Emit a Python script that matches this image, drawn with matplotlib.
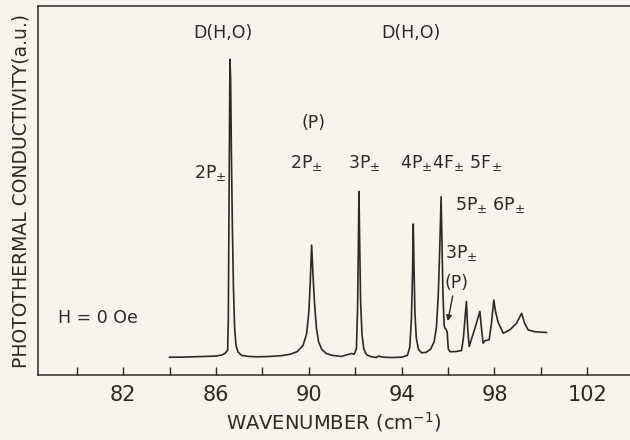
import numpy as np
import matplotlib
matplotlib.use("Agg")
import matplotlib.pyplot as plt

# spectrum (wavenumber in cm^-1, signal in a.u.)
wavenumber = [84.00, 84.50, 85.00, 85.50, 86.00, 86.25, 86.40, 86.47, 86.50, 86.53,
              86.56, 86.60, 86.63, 86.66, 86.70, 86.75, 86.80, 86.86, 86.95, 87.10,
              87.40, 87.80, 88.30, 88.80, 89.20, 89.50, 89.75, 89.90, 90.00, 90.06,
              90.12, 90.18, 90.25, 90.33, 90.42, 90.55, 90.75, 91.00, 91.40, 91.84,
              91.95, 92.05, 92.10, 92.13, 92.16, 92.19, 92.23, 92.29, 92.37, 92.48,
              92.65, 92.90, 93.00, 93.20, 93.60, 94.00, 94.25, 94.35, 94.42, 94.47,
              94.50, 94.53, 94.57, 94.63, 94.72, 94.85, 95.05, 95.25, 95.40, 95.50,
              95.58, 95.64, 95.70, 95.74, 95.78, 95.83, 95.86, 95.90, 95.96, 96.01,
              96.08, 96.30, 96.58, 96.66, 96.79, 96.85, 96.91, 97.00, 97.15, 97.37,
              97.45, 97.51, 97.60, 97.77, 97.87, 97.97, 98.05, 98.16, 98.38, 98.66,
              98.95, 99.17, 99.30, 99.45, 99.74, 100.24]
signal = [4.8, 4.8, 4.9, 5.0, 5.1, 5.4, 5.9, 6.5, 6.6, 15.0,
          45.0, 85.6, 80.0, 62.0, 42.0, 24.0, 13.0, 8.0, 6.2, 5.3,
          5.0, 4.9, 5.0, 5.2, 5.6, 6.3, 8.0, 11.0, 17.0, 25.0,
          35.2, 27.0, 19.0, 12.5, 9.0, 7.0, 5.8, 5.3, 5.0, 5.8,
          5.6, 7.0, 18.0, 33.0, 49.7, 36.0, 20.0, 11.0, 7.0, 5.5,
          5.0, 4.7, 5.1, 4.8, 4.7, 4.8, 5.3, 7.5, 15.0, 28.0,
          40.9, 30.0, 17.0, 10.0, 7.0, 6.0, 6.1, 7.0, 9.0, 13.0,
          22.0, 34.0, 48.3, 35.0, 22.0, 13.5, 12.7, 12.5, 11.7, 7.0,
          6.3, 6.3, 6.6, 10.0, 19.9, 12.0, 7.7, 9.5, 12.5, 17.2,
          12.0, 8.6, 9.3, 9.5, 14.0, 20.3, 17.0, 14.2, 11.3, 12.2,
          14.0, 16.7, 14.0, 12.2, 11.7, 11.5]

tick_pos = np.arange(80, 104, 2)
tick_labels = ["", "82", "", "86", "", "90", "", "94", "", "98", "", "102"]

# peak labels: (x, y, text, horizontal alignment)
labels = [
    (85.0, 91.3, "D(H,O)", "left"),
    (93.13, 91.3, "D(H,O)", "left"),
    (89.70, 66.9, "(P)", "left"),
    (86.47, 53.4, "2P$_{\\pm}$", "right"),
    (89.18, 56.1, "2P$_{\\pm}$", "left"),
    (91.68, 56.1, "3P$_{\\pm}$", "left"),
    (93.92, 56.1, "4P$_{\\pm}$4F$_{\\pm}$ 5F$_{\\pm}$", "left"),
    (96.29, 44.7, "5P$_{\\pm}$ 6P$_{\\pm}$", "left"),
    (95.86, 31.7, "3P$_{\\pm}$", "left"),
    (95.86, 23.6, "(P)", "left"),
    (79.18, 14.1, "H = 0 Oe", "left"),
]

ink = "#2a2a28"
paper = "#f7f5e9"

fig = plt.figure(figsize=(6.3, 4.4), dpi=100, facecolor=paper)
ax = fig.add_axes([0.060, 0.148, 0.940, 0.838], facecolor=paper)

ax.plot(wavenumber, signal, color=ink, linewidth=1.2)

for x, y, s, ha in labels:
    ax.text(x, y, s, ha=ha, va="baseline", fontsize=12.5, color=ink)

# arrow from the lower (P) label to the shoulder
ax.annotate("", xy=(95.99, 14.6), xytext=(96.20, 21.4),
            arrowprops=dict(arrowstyle="-|>", color=ink, lw=1.0,
                            mutation_scale=8, shrinkA=0, shrinkB=0))

ax.set_xlim(78.32, 103.84)
ax.set_ylim(0, 100)
ax.set_xticks(tick_pos)
ax.set_xticklabels(tick_labels, fontsize=15, color=ink)
ax.set_yticks([])
ax.tick_params(axis="x", direction="in", length=6, width=1.0, color=ink, pad=7)
ax.spines["right"].set_visible(False)
for side in ["left", "bottom", "top"]:
    ax.spines[side].set_color(ink)
    ax.spines[side].set_linewidth(1.1)

ax.set_xlabel("WAVENUMBER (cm$^{-1}$)", fontsize=14, color=ink, labelpad=4)
ax.set_ylabel("PHOTOTHERMAL CONDUCTIVITY(a.u.)", fontsize=13.5, color=ink, labelpad=5)

fig.savefig("out.png", dpi=100, facecolor=paper)
